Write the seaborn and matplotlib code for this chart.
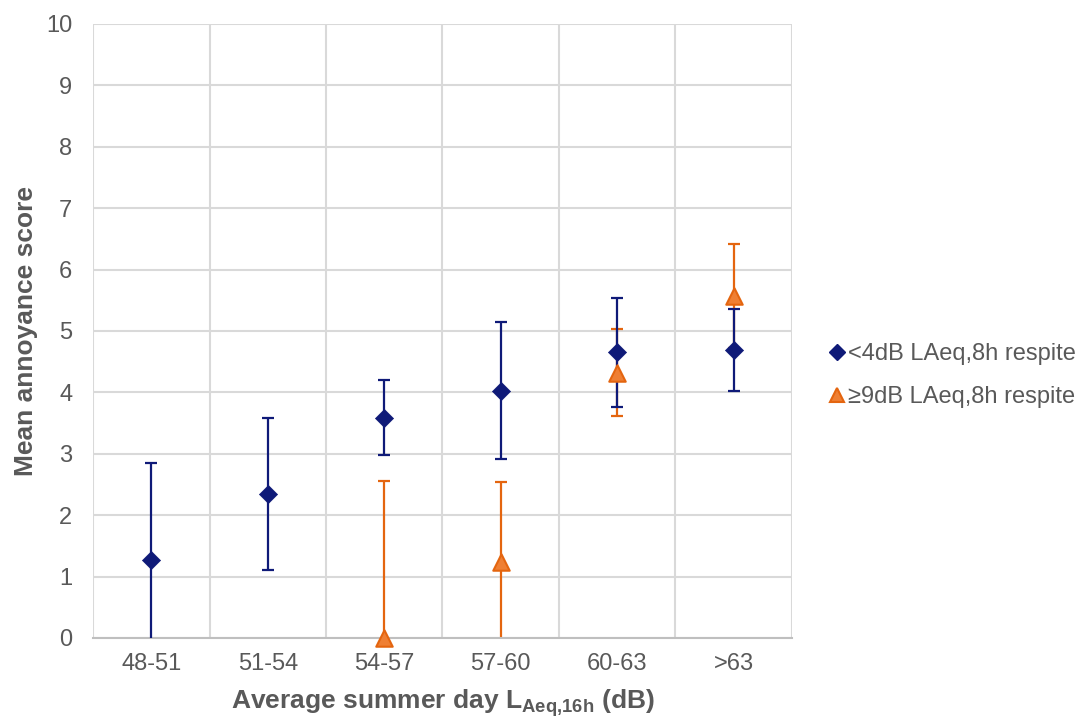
import numpy as np
import pandas as pd
import matplotlib
matplotlib.use("Agg")
import matplotlib.pyplot as plt
import seaborn as sns
from matplotlib.lines import Line2D

# ── datos ──
bandas = ["48-51", "51-54", "54-57", "57-60", "60-63", ">63"]

bajo_media = [1.27, 2.34, 3.59, 4.03, 4.65, 4.69]
bajo_err = [1.58, 1.24, 0.61, 1.12, 0.89, 0.67]

alto_bandas = ["54-57", "57-60", "60-63", ">63"]
alto_media = [0.0, 1.23, 4.32, 5.57]
alto_err = [2.56, 1.31, 0.71, 0.84]

NOMBRE_BAJO = "<4dB LAeq,8h respite"
NOMBRE_ALTO = "≥9dB LAeq,8h respite"

NAVY = "#0f1a78"
ORANGE = "#e4650f"
ORANGE_FILL = "#ef7f33"
FG = "#595959"
GRID = "#d9d9d9"

sns.set_theme(style="white")
plt.rcParams["font.family"] = ["Liberation Sans", "DejaVu Sans"]
plt.rcParams["mathtext.fontset"] = "custom"
plt.rcParams["mathtext.rm"] = "Liberation Sans"
plt.rcParams["mathtext.bf"] = "Liberation Sans:bold"

df_bajo = pd.DataFrame({"banda": bandas, "media": bajo_media, "err": bajo_err})
df_alto = pd.DataFrame({"banda": alto_bandas, "media": alto_media, "err": alto_err})

fig = plt.figure(figsize=(10.84, 7.2), dpi=100, facecolor="white")
ax = fig.add_axes([0.0858, 0.1139, 0.6448, 0.8528])

# fija el orden de categorías
ax.plot(bandas, [np.nan] * len(bandas))

ax.errorbar(df_bajo["banda"], df_bajo["media"], yerr=df_bajo["err"], fmt="none",
            ecolor=NAVY, elinewidth=1.6, capsize=4.3, capthick=1.6, zorder=3)
ax.errorbar(df_alto["banda"], df_alto["media"], yerr=df_alto["err"], fmt="none",
            ecolor=ORANGE, elinewidth=1.6, capsize=4.3, capthick=1.6, zorder=2)

sns.scatterplot(data=df_alto, x="banda", y="media", marker="^", s=140,
                color=ORANGE_FILL, edgecolor=ORANGE, linewidth=1.5, ax=ax,
                zorder=4, clip_on=False)
sns.scatterplot(data=df_bajo, x="banda", y="media", marker="D", s=85,
                color=NAVY, edgecolor=NAVY, linewidth=0.5, ax=ax, zorder=5)

ax.set_xlim(-0.5, len(bandas) - 0.5)
ax.set_ylim(0, 10)
ax.set_yticks(range(0, 11))
ax.set_xticks(np.arange(-0.5, len(bandas), 1), minor=True)
ax.grid(which="minor", axis="x", color=GRID, lw=1.5, zorder=0)
ax.grid(which="major", axis="y", color=GRID, lw=1.5, zorder=0)
ax.grid(which="major", axis="x", visible=False)
ax.set_axisbelow(True)

for lado in ["top", "right", "left"]:
    ax.spines[lado].set_visible(False)
ax.spines["bottom"].set_color("#bfbfbf")
ax.spines["bottom"].set_linewidth(1.5)

ax.tick_params(axis="both", which="both", length=0, colors=FG, labelsize=17)
ax.tick_params(axis="y", pad=15)
ax.tick_params(axis="x", pad=11)

ax.set_ylabel("Mean annoyance score", color=FG, fontsize=19, fontweight="bold", labelpad=6)
ax.set_xlabel(r"Average summer day $\mathbf{L_{Aeq{,}16h}}$ (dB)", color=FG,
              fontsize=19, fontweight="bold", labelpad=9)

handles = [
    Line2D([], [], ls="none", marker="D", ms=8, color=NAVY, mec=NAVY),
    Line2D([], [], ls="none", marker="^", ms=10, color=ORANGE_FILL, mec=ORANGE, mew=1.5),
]
leg = fig.legend(handles, [NOMBRE_BAJO, NOMBRE_ALTO], loc="center left",
                 bbox_to_anchor=(0.766, 0.478), frameon=False, fontsize=17,
                 handlelength=0.6, handletextpad=0.15, labelspacing=0.9,
                 borderaxespad=0, borderpad=0)
for t in leg.get_texts():
    t.set_color(FG)

fig.savefig("out.png", dpi=100, facecolor="white")
